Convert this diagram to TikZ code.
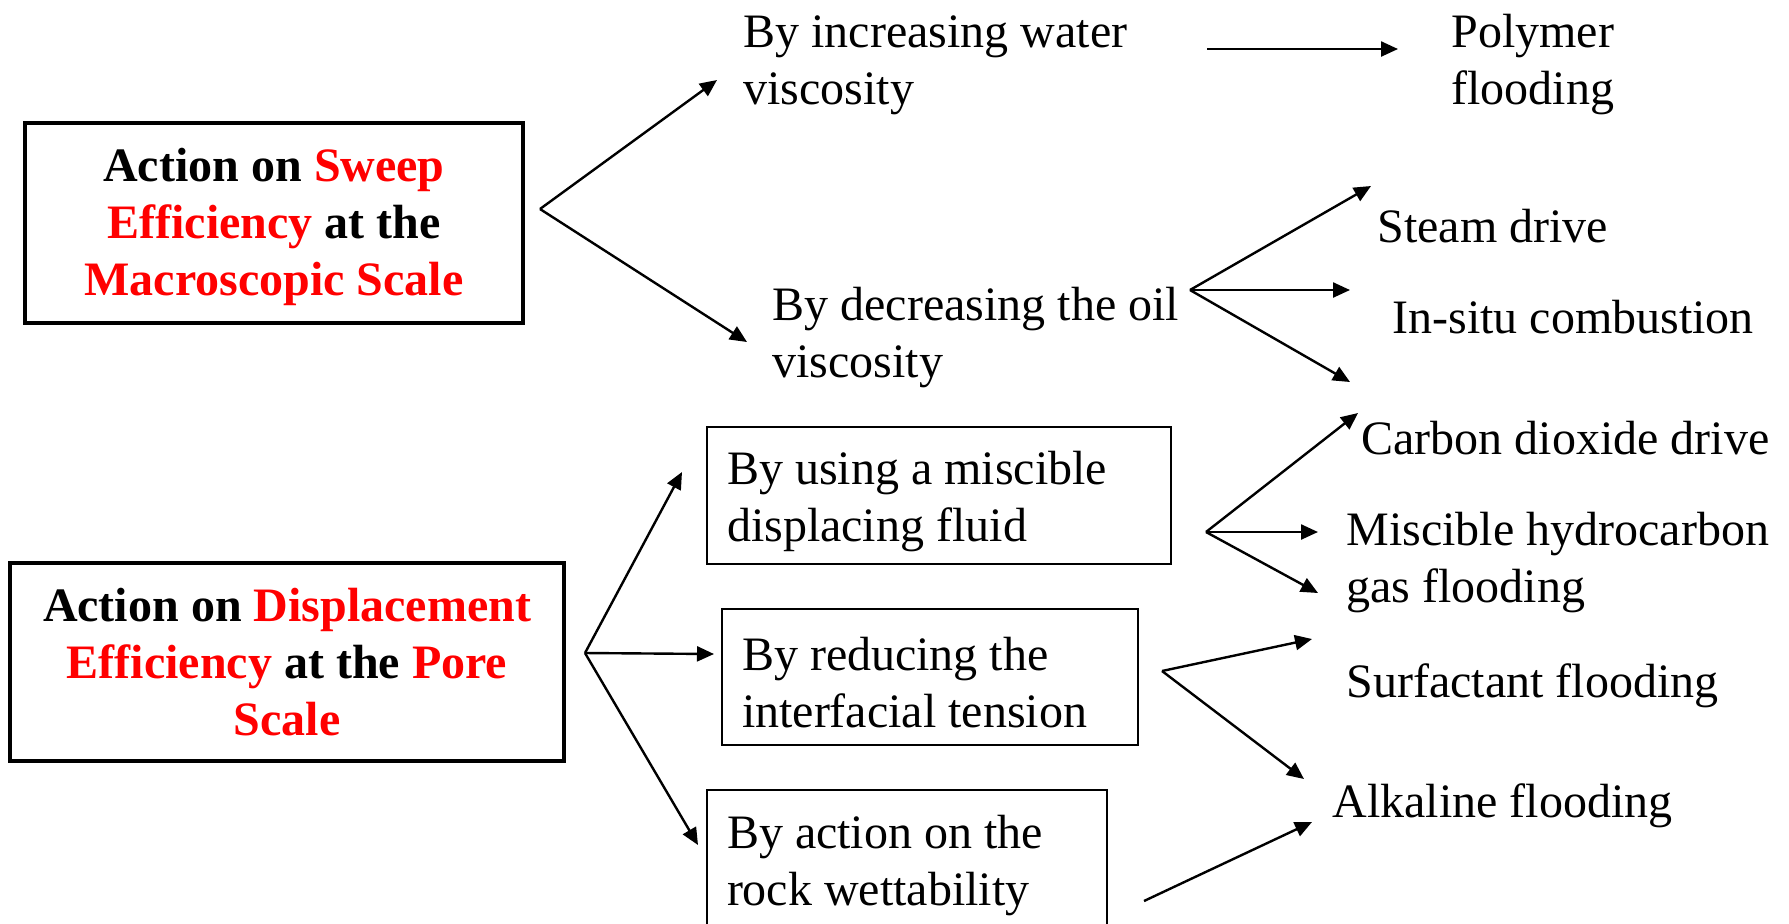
\documentclass[tikz,border=0pt]{standalone}
\usepackage{fontspec}
\setmainfont{Liberation Serif}
\usetikzlibrary{arrows.meta}
\definecolor{hl}{RGB}{255,0,0}
\newcommand{\hlt}[1]{\textcolor{hl}{#1}}
\newcommand{\topfix}[1]{\rule{0pt}{#1}}
\begin{document}
\begin{tikzpicture}[x=0.5pt,y=-0.5pt,
  txt/.style={font=\fontsize{24}{28.5}\selectfont, inner sep=0pt, align=left, anchor=west},
  bigbox/.style={draw, line width=2pt, font=\fontsize{24}{28.5}\selectfont\bfseries, align=center, inner sep=0pt},
  subbox/.style={draw, line width=0.7pt, font=\fontsize{24}{28.5}\selectfont, align=flush left, inner xsep=10pt, inner ysep=0pt},
  arr/.style={-{Triangle[length=8.5pt,width=7.5pt]}, line width=1.2pt},
  ln/.style={line width=1.2pt}]
\useasboundingbox (0,0) rectangle (1789,923);
\clip (0,0) rectangle (1789,923);
\fill[white] (0,0) rectangle (1789,923);

% main boxes
\node[bigbox, minimum width=249pt, minimum height=100pt] (sweep) at (274,223)
  {\topfix{21pt}Action on \hlt{Sweep}\\ \hlt{Efficiency} at the\\ \hlt{Macroscopic Scale}};
\node[bigbox, minimum width=277pt, minimum height=99pt] (disp) at (287,662)
  {Action on \hlt{Displacement}\\ \hlt{Efficiency} at the \hlt{Pore}\\ \hlt{Scale}};

% upper branch
\coordinate (f1) at (540,209);
\coordinate (t1a) at (717,80);
\coordinate (t1b) at (747,342);
\draw[arr] (f1) -- (t1a);
\draw[arr] (f1) -- (t1b);

\node[txt] (inc) at (743,65) {By increasing water\\viscosity};
\coordinate (p0) at (1207,49);
\coordinate (p1) at (1398,49);
\draw[arr] (p0) -- (p1);
\node[txt] (poly) at (1451,65) {Polymer\\flooding};

\node[txt] (dec) at (772,338) {By decreasing the oil\\viscosity};
\coordinate (f2) at (1190,290);
\coordinate (t2a) at (1371,186);
\coordinate (t2b) at (1350,290);
\coordinate (t2c) at (1350,382);
\draw[arr] (f2) -- (t2a);
\draw[arr] (f2) -- (t2b);
\draw[arr] (f2) -- (t2c);
\node[txt] (steam) at (1377,226) {Steam drive};
\node[txt] (insitu) at (1392,317) {In-situ combustion};

% lower branch
\node[subbox, minimum width=232pt, minimum height=68.5pt, text width=212pt] (mis) at (939,495.5)
  {\topfix{22.4pt}By using a miscible\\displacing fluid};
\node[subbox, minimum width=208pt, minimum height=68pt, text width=188pt] (ift) at (930,677)
  {\topfix{22.4pt}By reducing the\\interfacial tension};
\node[subbox, minimum width=200pt, minimum height=70pt, text width=180pt] (wet) at (907,860)
  {\topfix{22.4pt}By action on the\\rock wettability};

\coordinate (f3) at (585,653);
\coordinate (t3a) at (682,472);
\coordinate (t3b) at (714,654);
\coordinate (t3c) at (698,845);
\draw[arr] (f3) -- (t3a);
\draw[arr] (f3) -- (t3b);
\draw[arr] (f3) -- (t3c);

\coordinate (f4) at (1206,532);
\coordinate (t4a) at (1358,413);
\coordinate (t4b) at (1318,532);
\coordinate (t4c) at (1318,593);
\draw[arr] (f4) -- (t4a);
\draw[arr] (f4) -- (t4b);
\draw[arr] (f4) -- (t4c);
\node[txt] (co2) at (1361,438) {Carbon dioxide drive};
\node[txt] (mhc) at (1346,563) {Miscible hydrocarbon\\gas flooding};

\coordinate (f5) at (1162,671);
\coordinate (t5a) at (1312,639);
\coordinate (t5b) at (1304,779);
\draw[arr] (f5) -- (t5a);
\draw[arr] (f5) -- (t5b);
\node[txt] (surf) at (1346,686) {Surfactant flooding};
\node[txt] (alk) at (1332,806) {Alkaline flooding};

\coordinate (f6) at (1144,901);
\coordinate (t6) at (1312,822);
\draw[arr] (f6) -- (t6);
\end{tikzpicture}
\end{document}
